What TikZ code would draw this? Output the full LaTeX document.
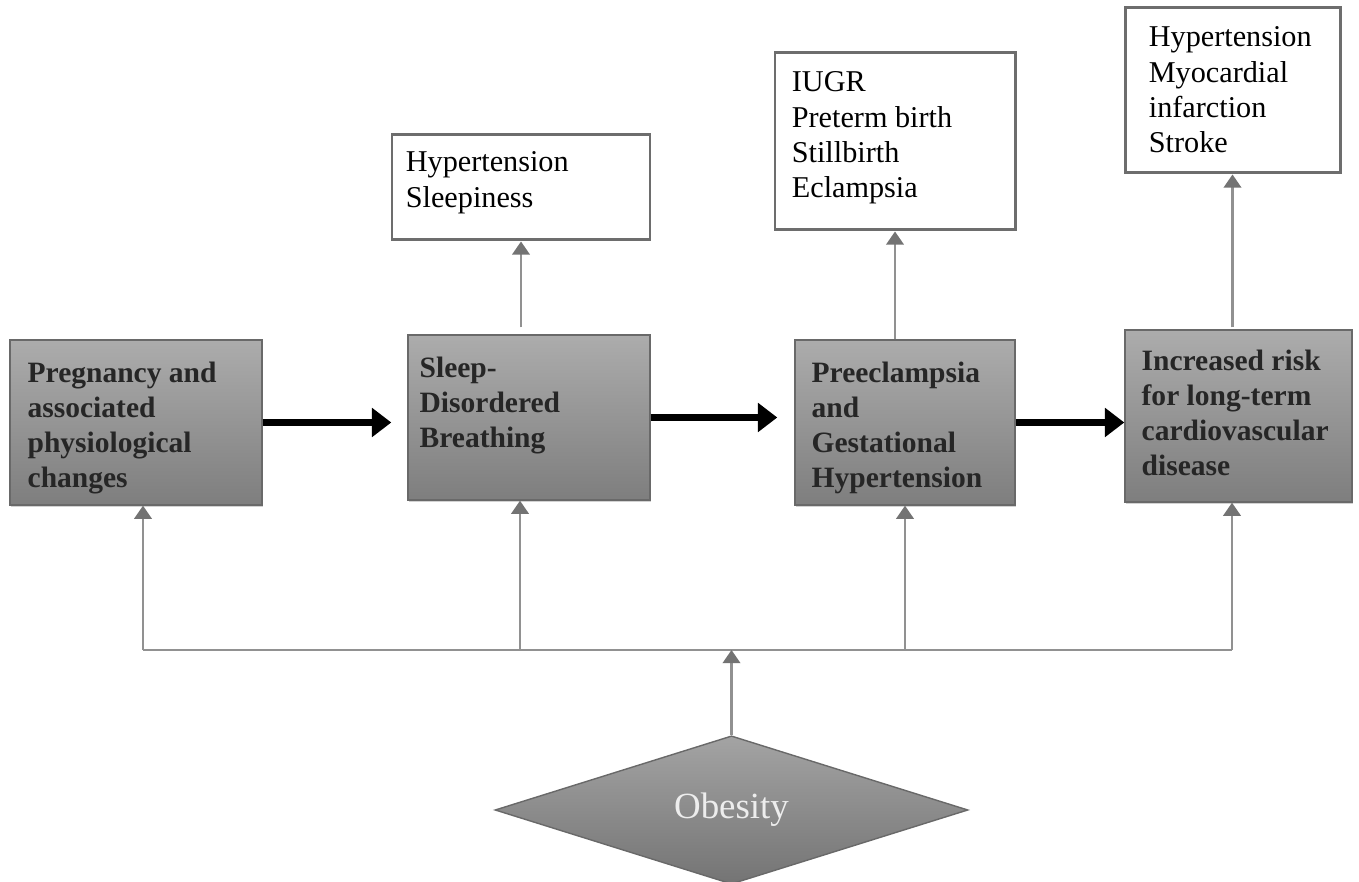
\documentclass[tikz,border=0pt]{standalone}
\usepackage{fontspec}
\setmainfont{Liberation Serif}
\usetikzlibrary{
    shapes.geometric,
    arrows.meta,
    positioning,
    calc,
    shadows
}
\definecolor{Gtop}{RGB}{172, 172, 172}
\definecolor{Gbot}{RGB}{126, 126, 126}
\definecolor{Gedge}{RGB}{105, 105, 105}
\definecolor{Gline}{RGB}{145, 145, 145}
\definecolor{Ghead}{RGB}{115, 115, 115}
\definecolor{Gtxt}{RGB}{38, 38, 38}
\tikzset{
    gbox/.style={
        rectangle, draw=Gedge, line width=0.8pt,
        top color=Gtop, bottom color=Gbot, inner sep=0pt,
        drop shadow={shadow xshift=0.6pt, shadow yshift=-1.4pt, fill=black!35}
    },
    wbox/.style={
        rectangle, draw=Gline!75!black, line width=1.7pt,
        fill=white, inner sep=0pt
    },
    gtext/.style={
        anchor=north west, inner sep=0pt, align=left, text=Gtxt,
        font=\fontsize{16.8}{20}\selectfont\bfseries
    },
    wtext/.style={
        anchor=north west, inner sep=0pt, align=left, text=black,
        font=\fontsize{17.2}{20}\selectfont
    },
    obox/.style={
        diamond, draw=Gedge, line width=0.8pt, inner sep=0pt,
        top color=Gtop!95!black, bottom color=Gbot!92!black,
        minimum width=9.46cm, minimum height=2.8cm,
        text=white!93!black, font=\fontsize{21}{24}\selectfont
    },
    barr/.style={-{Triangle[length=11pt, width=16pt]}, line width=4pt, black},
    garr/.style={-{Triangle[length=7.5pt, width=10pt, color=Ghead]}, line width=1.2pt, Gline},
    gline/.style={line width=1.2pt, Gline},
}

\begin{document}
\begin{tikzpicture}
    \useasboundingbox (0,0) rectangle (27.18,17.64);

    % ── main chain (grey boxes) ─────────────────────────
    \node [gbox, minimum width=5.04cm, minimum height=3.3cm] (preg) at (2.72,9.19) {};
    \node [gbox, minimum width=4.84cm, minimum height=3.3cm] (sdb) at (10.58,9.29) {};
    \node [gbox, minimum width=4.4cm, minimum height=3.3cm] (pre) at (18.1,9.19) {};
    \node [gbox, minimum width=4.54cm, minimum height=3.44cm] (cvd) at (24.77,9.32) {};

    \node [gtext] (pregt) at ([shift={(0.36,-0.44)}]preg.north west)
        {Pregnancy and\\associated\\physiological\\changes};
    \node [gtext] (sdbt) at ([shift={(0.24,-0.44)}]sdb.north west)
        {Sleep-\\Disordered\\Breathing};
    \node [gtext] (pret) at ([shift={(0.34,-0.44)}]pre.north west)
        {Preeclampsia\\and\\Gestational\\Hypertension};
    \node [gtext] (cvdt) at ([shift={(0.34,-0.4)}]cvd.north west)
        {Increased risk\\for long-term\\cardiovascular\\disease};

    % ── outcome boxes (white) ───────────────────────────
    \node [wbox, minimum width=5.16cm, minimum height=2.1cm] (out1) at (10.42,13.89) {};
    \node [wbox, minimum width=4.8cm, minimum height=3.54cm] (out2) at (17.9,14.81) {};
    \node [wbox, minimum width=4.3cm, minimum height=3.3cm] (out3) at (24.65,15.83) {};

    \node [wtext] (out1t) at ([shift={(0.3,-0.36)}]out1.north west)
        {Hypertension\\Sleepiness};
    \node [wtext] (out2t) at ([shift={(0.36,-0.4)}]out2.north west)
        {IUGR\\Preterm birth\\Stillbirth\\Eclampsia};
    \node [wtext] (out3t) at ([shift={(0.5,-0.4)}]out3.north west)
        {Hypertension\\Myocardial\\infarction\\Stroke};

    % ── obesity ─────────────────────────────────────────
    \node [obox] (obes) at (14.63,1.44) {Obesity};
    \coordinate (bus) at (14.63,4.64);

    % ── arrows ──────────────────────────────────────────
    \draw [barr, shorten >=0.32cm] (preg.east) -- (preg.east -| sdb.west);
    \draw [barr, shorten >=0.34cm] (sdb.east) -- (sdb.east -| pre.west);
    \draw [barr] (pre.east) -- (pre.east -| cvd.west);

    \draw [garr, shorten <=0.14cm] (out1.south |- sdb.north) -- (out1.south);
    \draw [garr] (out2.south |- pre.north) -- (out2.south);
    \draw [garr, shorten <=0.04cm] (out3.south |- cvd.north) -- (out3.south);

    \draw [gline] ([xshift=0.14cm]preg.south |- bus) -- ([xshift=-0.13cm]cvd.south |- bus);
    \draw [garr] ([xshift=0.14cm]preg.south |- bus) -- ([xshift=0.14cm]preg.south);
    \draw [garr] ([xshift=-0.18cm]sdb.south |- bus) -- ([xshift=-0.18cm]sdb.south);
    \draw [garr] (pre.south |- bus) -- (pre.south);
    \draw [garr] ([xshift=-0.13cm]cvd.south |- bus) -- ([xshift=-0.13cm]cvd.south);
    \draw [garr] (obes.north) -- (bus);

\end{tikzpicture}
\end{document}
